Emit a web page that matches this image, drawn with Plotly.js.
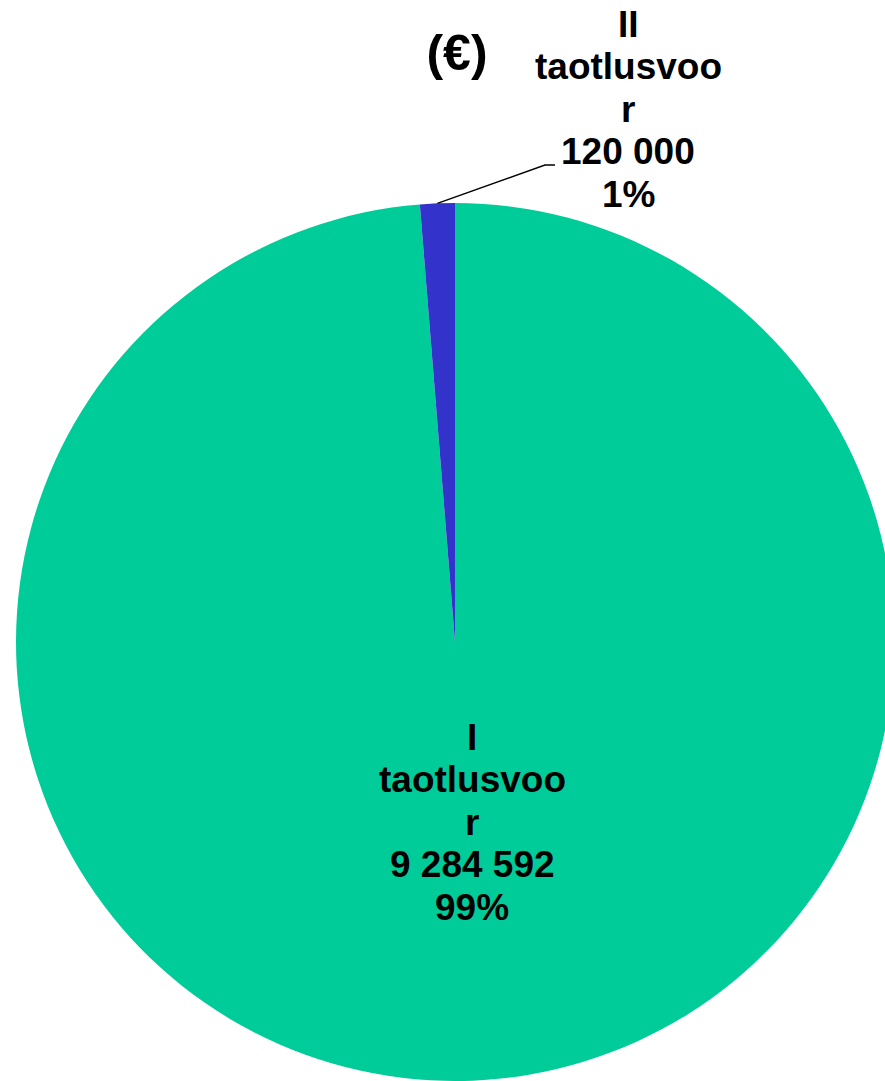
<!DOCTYPE html>
<html>
<head>
<meta charset="utf-8">
<script src="https://cdn.plot.ly/plotly-3.0.1.min.js"></script>
<style>
html, body { margin: 0; padding: 0; overflow: hidden; background: #fff; }
#chart { width: 910px; height: 1081px; }
</style>
</head>
<body>
<div id="chart"></div>
<script>
// ---- data ----
const categories = ["I taotlusvoor", "II taotlusvoor"];
const values = [9284592, 120000];
const colors = ["#00CC99", "#3333CC"];
const titleText = "(€)";

// ---- layout geometry (pixels) ----
const W = 910, H = 1081;
const cx = 455, cy = 642, R = 439;
const FONT = '"Liberation Sans", Arial, sans-serif';
const FS = 37, PITCH = 42.5;

const total = values.reduce((a, b) => a + b, 0);
function fmt(v) { return String(v).replace(/\B(?=(\d{3})+(?!\d))/g, ' '); }
function wrapLabel(s) {
  const [roman, word] = s.split(' ');
  const out = [roman];
  for (let i = 0; i < word.length; i += 10) out.push(word.slice(i, i + 10));
  return out;
}
function lines(i) {
  return wrapLabel(categories[i]).concat([fmt(values[i]), Math.round(values[i] / total * 100) + '%']);
}
const px = x => x / W;
const py = y => 1 - y / H;

const annotations = [];
function addBlock(i, centerX, firstLineY) {
  lines(i).forEach((t, k) => {
    annotations.push({
      text: '<b>' + t + '</b>', xref: 'paper', yref: 'paper',
      x: px(centerX), y: py(firstLineY + k * PITCH),
      xanchor: 'center', yanchor: 'middle', showarrow: false,
      font: { family: FONT, size: FS, color: '#000' }
    });
  });
}
// label for I (inside) and II (outside)
addBlock(0, 472, 737);
addBlock(1, 628, 24);

// leader line for small slice (II is the last slice, just left of 12 o'clock)
const midA = (values[1] / total) * Math.PI;
const sx = cx - R * Math.sin(midA), sy = cy - R * Math.cos(midA);
const shapes = [{
  type: 'path', xref: 'paper', yref: 'paper',
  path: `M ${px(sx)} ${py(sy)} L ${px(545)} ${py(165)} L ${px(555)} ${py(165)}`,
  line: { color: '#000', width: 1.5 }
}];

const trace = {
  type: 'pie',
  labels: categories,
  values: values,
  marker: { colors: colors, line: { width: 0 } },
  sort: false,
  direction: 'clockwise',
  rotation: 0,
  textinfo: 'none',
  hoverinfo: 'label+value+percent',
  showlegend: false,
  domain: { x: [0, 1], y: [py(cy + R), py(cy - R)] }
};

const layout = {
  width: W, height: H,
  margin: { l: 0, r: 0, t: 0, b: 0 },
  paper_bgcolor: '#fff',
  title: {
    text: '<b>' + titleText + '</b>',
    font: { family: FONT, size: 50, color: '#000' },
    x: px(457), xanchor: 'center',
    y: py(52), yanchor: 'middle', yref: 'paper'
  },
  annotations: annotations,
  shapes: shapes
};

Plotly.newPlot('chart', [trace], layout, { displayModeBar: false, staticPlot: true });
</script>
</body>
</html>
